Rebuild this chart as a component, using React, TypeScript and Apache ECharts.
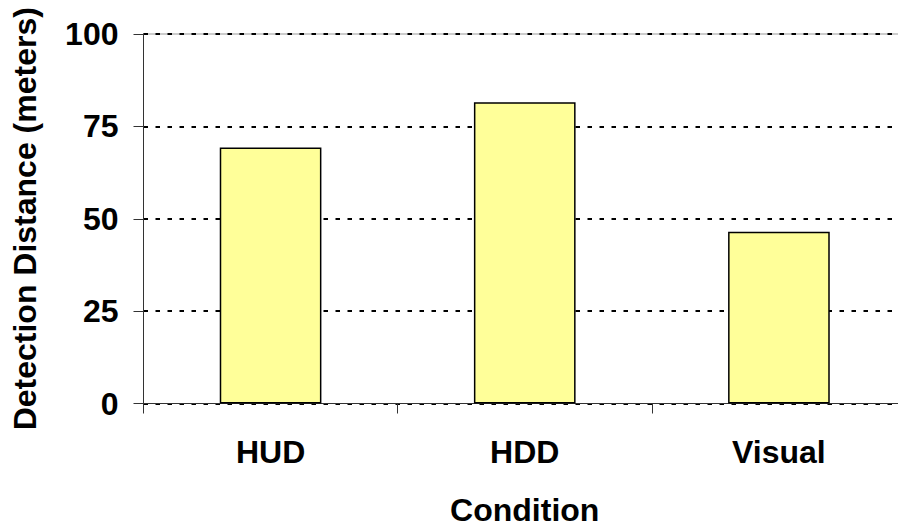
import React, { useEffect, useRef } from "react";
import * as echarts from "echarts";

const categories = ["HUD", "HDD", "Visual"];
const detectionDistance = [69.3, 81.5, 46.5];
const yTicks = { min: 0, max: 100, interval: 25 };
const xTitle = "Condition";
const yTitle = "Detection Distance (meters)";

const FONT = "'Liberation Sans', Arial, sans-serif";

export default function App() {
  const ref = useRef<HTMLDivElement>(null);
  useEffect(() => {
    if (!ref.current) return;
    const chart = echarts.init(ref.current, null, { renderer: "svg" });
    chart.setOption({
      animation: false,
      backgroundColor: "#ffffff",
      grid: {
        left: 143.5,
        top: 34,
        width: 762.5,
        height: 369.5,
        outerBoundsMode: "none",
        containLabel: false,
        show: true,
        borderColor: "#999999",
        borderWidth: 1,
        backgroundColor: "transparent",
      },
      xAxis: {
        type: "category",
        data: categories,
        name: xTitle,
        nameLocation: "middle",
        nameGap: 90,
        nameTextStyle: { fontFamily: FONT, fontWeight: "bold", fontSize: 32, color: "#000" },
        axisLine: { show: true, lineStyle: { color: "#333", width: 1 } },
        axisTick: { show: true, alignWithLabel: false, length: 10, lineStyle: { color: "#333", width: 1 } },
        axisLabel: { fontFamily: FONT, fontWeight: "bold", fontSize: 32, color: "#000", margin: 32 },
        splitLine: { show: false },
      },
      yAxis: {
        type: "value",
        min: yTicks.min,
        max: yTicks.max,
        interval: yTicks.interval,
        name: yTitle,
        nameLocation: "middle",
        nameGap: 103,
        nameRotate: 90,
        nameTextStyle: { fontFamily: FONT, fontWeight: "bold", fontSize: 32, color: "#000" },
        axisLine: { show: true, lineStyle: { color: "#333", width: 1 } },
        axisTick: { show: true, length: 10, lineStyle: { color: "#333", width: 1 } },
        axisLabel: { fontFamily: FONT, fontWeight: "bold", fontSize: 32, color: "#000", margin: 25 },
        splitLine: { show: true, lineStyle: { color: "#000", width: 2, type: [4.5, 7.5] } },
      },
      series: [
        {
          type: "bar",
          data: detectionDistance,
          barCategoryGap: "60%",
          itemStyle: { color: "#FFFF99", borderColor: "#000", borderWidth: 1.5 },
        },
      ],
    });
    return () => chart.dispose();
  }, []);
  return (
    <div
      ref={ref}
      style={{ position: "fixed", left: 0, top: 0, width: 898, height: 527 }}
    />
  );
}
